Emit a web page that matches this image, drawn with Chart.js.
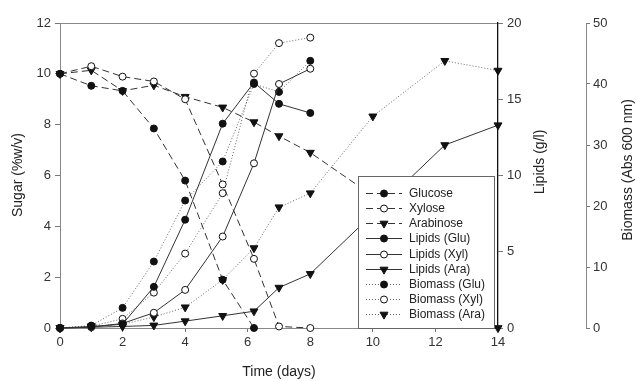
<!DOCTYPE html>
<html>
<head>
<meta charset="utf-8">
<script src="https://cdn.jsdelivr.net/npm/chart.js@4/dist/chart.umd.min.js"></script>
<style>
  html, body { margin: 0; padding: 0; background: #fff; }
  #wrap { width: 636px; height: 381px; }
</style>
</head>
<body>
<div id="wrap"><canvas id="c" width="636" height="381"></canvas></div>
<script>
// Sampling times (days)
const daysGlucose = [0, 1, 2, 3, 4, 5.2, 6.2];
const daysGluXyl = [0, 1, 2, 3, 4, 5.2, 6.2, 7, 8];
const daysArabinose = [0, 1, 2, 3, 4, 5.2, 6.2, 7, 8, 10, 12.3, 14];
const daysLipidsAra = [0, 1, 2, 3, 4, 5.2, 6.2, 7, 8, 12.3, 14];

// Residual sugar (% w/v)
const glucose = [10, 9.53, 9.33, 7.85, 5.8, 1.9, 0];
const xylose = [10, 10.3, 9.89, 9.7, 9.0, 5.65, 2.72, 0.06, 0];
const arabinose = [10, 10.14, 9.33, 9.55, 9.1, 8.68, 8.1, 7.55, 6.9, 5.2, 1.5, 0];

// Lipids (g/l)
const lipidsGlu = [0, 0.1, 0.25, 2.7, 7.1, 13.4, 16.1, 14.7, 14.1];
const lipidsXyl = [0, 0.05, 0.3, 1.0, 2.5, 6.0, 10.8, 16.0, 17.0];
const lipidsAra = [0, 0.05, 0.1, 0.17, 0.45, 0.8, 1.1, 2.65, 3.55, 12.0, 13.3];

// Biomass (Abs 600 nm)
const biomassGlu = [0, 0.4, 3.3, 10.9, 20.9, 27.3, 40.0, 38.7, 43.8];
const biomassXyl = [0, 0.3, 1.5, 5.8, 12.2, 22.1, 41.7, 46.7, 47.6];
const biomassAra = [0, 0.3, 0.6, 1.8, 3.4, 7.9, 13.1, 19.8, 22.1, 34.7, 43.8, 42.2];

// Axis ranges and titles
const sugarTicks = { min: 0, max: 12, step: 2 };
const lipidTicks = { min: 0, max: 20, step: 5 };
const biomassTicks = { min: 0, max: 50, step: 10 };
const timeTicks = { min: 0, max: 14, step: 2 };
const titles = { time: 'Time (days)', sugar: 'Sugar (%w/v)', lipids: 'Lipids (g/l)', biomass: 'Biomass (Abs 600 nm)' };

const FONT = '"Liberation Sans", Arial, sans-serif';
const INK = '#111';

const lineKinds = {
  sugar:   { borderColor: '#333', borderDash: [7, 4], yAxisID: 'y' },
  lipids:  { borderColor: '#333', borderDash: [], yAxisID: 'y1' },
  biomass: { borderColor: '#666', borderDash: [1, 2], yAxisID: 'y2' }
};
const markers = {
  filled: { pointStyle: 'circle', pointRadius: 3.5, pointBackgroundColor: INK, pointRotation: 0 },
  open:   { pointStyle: 'circle', pointRadius: 3.5, pointBackgroundColor: '#fff', pointRotation: 0 },
  tri:    { pointStyle: 'triangle', pointRadius: 4.6, pointBackgroundColor: INK, pointRotation: 180 }
};

function series(label, xs, ys, kind, marker) {
  return Object.assign({
    label,
    data: xs.map((x, i) => ({ x, y: ys[i] })),
    borderWidth: 1,
    pointBorderColor: INK,
    pointBorderWidth: 1,
    pointHoverRadius: 4,
    tension: 0,
    fill: false,
    clip: false
  }, lineKinds[kind], markers[marker]);
}

const datasets = [
  series('Glucose', daysGlucose, glucose, 'sugar', 'filled'),
  series('Xylose', daysGluXyl, xylose, 'sugar', 'open'),
  series('Arabinose', daysArabinose, arabinose, 'sugar', 'tri'),
  series('Lipids (Glu)', daysGluXyl, lipidsGlu, 'lipids', 'filled'),
  series('Lipids (Xyl)', daysGluXyl, lipidsXyl, 'lipids', 'open'),
  series('Lipids (Ara)', daysLipidsAra, lipidsAra, 'lipids', 'tri'),
  series('Biomass (Glu)', daysGluXyl, biomassGlu, 'biomass', 'filled'),
  series('Biomass (Xyl)', daysGluXyl, biomassXyl, 'biomass', 'open'),
  series('Biomass (Ara)', daysArabinose, biomassAra, 'biomass', 'tri')
];

function drawMarker(ctx, ds, x, y) {
  ctx.save();
  ctx.fillStyle = ds.pointBackgroundColor;
  ctx.strokeStyle = ds.pointBorderColor;
  ctx.lineWidth = 1;
  ctx.setLineDash([]);
  ctx.beginPath();
  if (ds.pointStyle === 'triangle') {
    const r = ds.pointRadius;
    const a = Math.PI / 2; // pointing down
    for (let k = 0; k < 3; k++) {
      const ang = a + k * 2 * Math.PI / 3;
      const px = x + r * Math.cos(ang), py = y + r * Math.sin(ang) * 1;
      if (k === 0) ctx.moveTo(px, py); else ctx.lineTo(px, py);
    }
    ctx.closePath();
  } else {
    ctx.arc(x, y, ds.pointRadius, 0, Math.PI * 2);
  }
  ctx.fill();
  ctx.stroke();
  ctx.restore();
}

// Boxed legend inside the plot, above the curves
const boxLegend = {
  id: 'boxLegend',
  afterDatasetsDraw(chart) {
    const ctx = chart.ctx;
    const x0 = 358.5, y0 = 176.5, w = 136, h = 152;
    ctx.save();
    ctx.fillStyle = '#fff';
    ctx.fillRect(x0, y0, w, h);
    ctx.strokeStyle = '#666';
    ctx.lineWidth = 1;
    ctx.strokeRect(x0, y0, w, h);
    ctx.font = '12px ' + FONT;
    ctx.textBaseline = 'middle';
    ctx.textAlign = 'left';
    chart.data.datasets.forEach((ds, i) => {
      const y = Math.round(192.7 + i * 15.2) + 0.5;
      ctx.save();
      ctx.beginPath();
      ctx.setLineDash(ds.borderDash);
      ctx.strokeStyle = ds.borderColor;
      ctx.lineWidth = 1;
      ctx.moveTo(366, y);
      ctx.lineTo(402, y);
      ctx.stroke();
      ctx.restore();
      drawMarker(ctx, ds, 384, y);
      ctx.fillStyle = '#222';
      ctx.fillText(ds.label, 409, y);
    });
    ctx.restore();
  }
};

// Axis titles
const axisTitles = {
  id: 'axisTitles',
  afterDraw(chart) {
    const ctx = chart.ctx;
    ctx.save();
    ctx.fillStyle = '#222';
    ctx.font = '14px ' + FONT;
    ctx.textAlign = 'center';
    ctx.textBaseline = 'middle';
    ctx.fillText(titles.time, 279, 372);
    const vertical = (text, x, y) => {
      ctx.save();
      ctx.translate(x, y);
      ctx.rotate(-Math.PI / 2);
      ctx.fillText(text, 0, 0);
      ctx.restore();
    };
    vertical(titles.sugar, 18, 175);
    vertical(titles.lipids, 540, 162);
    vertical(titles.biomass, 628, 170);
    ctx.restore();
  }
};

const tickFont = { size: 13, family: FONT };
const tickGrid = (len) => ({ display: true, drawOnChartArea: false, drawTicks: true, tickLength: len, color: '#777', lineWidth: 1 });

new Chart(document.getElementById('c'), {
  type: 'line',
  data: { datasets },
  plugins: [boxLegend, axisTitles],
  options: {
    responsive: false,
    devicePixelRatio: 1,
    animation: false,
    events: [],
    layout: { padding: 0 },
    plugins: { legend: { display: false }, tooltip: { enabled: false } },
    scales: {
      x: {
        type: 'linear', position: 'bottom',
        min: timeTicks.min, max: timeTicks.max,
        ticks: { stepSize: timeTicks.step, color: '#333', font: tickFont, padding: 3, maxRotation: 0 },
        grid: tickGrid(4),
        border: { display: true, color: '#888', width: 1 },
        afterFit(s) { s.height = 53; }
      },
      xTop: {
        type: 'linear', position: 'top',
        min: timeTicks.min, max: timeTicks.max,
        ticks: { display: false },
        grid: { display: false, drawTicks: false },
        border: { display: true, color: '#888', width: 1 },
        afterFit(s) { s.height = 23; }
      },
      y: {
        position: 'left',
        min: sugarTicks.min, max: sugarTicks.max,
        ticks: { stepSize: sugarTicks.step, color: '#333', font: tickFont, padding: 4 },
        grid: tickGrid(5),
        border: { display: true, color: '#888', width: 1 },
        afterFit(s) { s.width = 60; }
      },
      y1: {
        position: 'right', weight: 0,
        min: lipidTicks.min, max: lipidTicks.max,
        ticks: { stepSize: lipidTicks.step, color: '#333', font: tickFont, padding: 4 },
        grid: tickGrid(5),
        border: { display: true, color: '#111', width: 1.3 },
        afterFit(s) { s.width = 88; }
      },
      y2: {
        position: 'right', weight: 1,
        min: biomassTicks.min, max: biomassTicks.max,
        ticks: { stepSize: biomassTicks.step, color: '#333', font: tickFont, padding: 3 },
        grid: tickGrid(4),
        border: { display: true, color: '#888', width: 1 },
        afterFit(s) { s.width = 50; }
      }
    }
  }
});
</script>
</body>
</html>
